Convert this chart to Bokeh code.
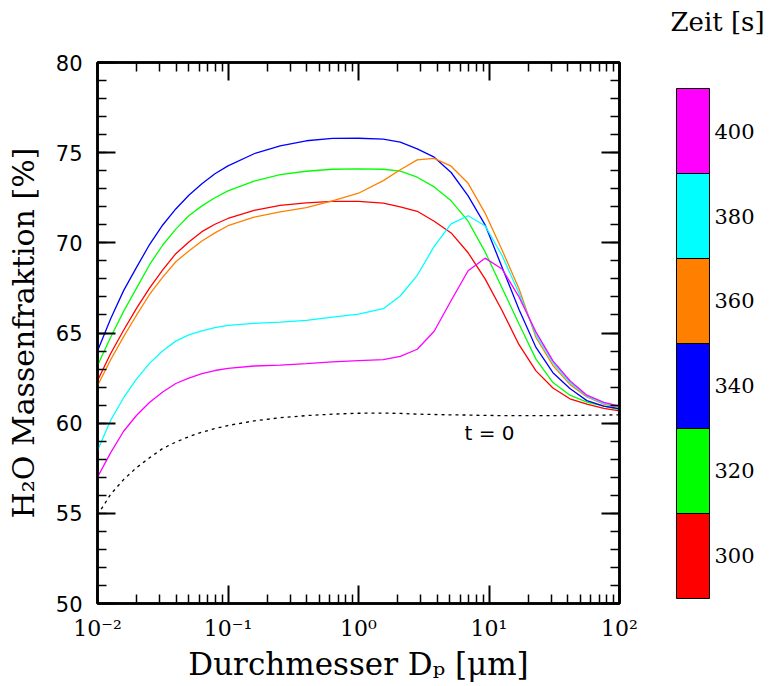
import numpy as np
from bokeh.plotting import figure
from bokeh.layouts import row
from bokeh.models import (FixedTicker, LogAxis, LinearAxis, Label, Range1d,
                          CustomJSTickFormatter)
from bokeh.core.properties import value
from bokeh.embed import file_html
from bokeh.resources import INLINE

# ---------------- data ----------------
log_d = [-2.0, -1.9, -1.8, -1.7, -1.6, -1.5, -1.4, -1.3, -1.2, -1.1, -1.0, -0.8, -0.6,
         -0.4, -0.2, 0.0, 0.19, 0.32, 0.45, 0.58, 0.71, 0.84, 0.97, 1.10, 1.23, 1.36,
         1.49, 1.62, 1.75, 1.88, 2.0]

red_300 = [62.36, 63.85, 65.15, 66.38, 67.5, 68.5, 69.4, 70.05, 70.62, 71.03, 71.35, 71.8,
           72.08, 72.22, 72.3, 72.3, 72.2, 72.0, 71.75, 71.2, 70.55, 69.45, 68.0, 66.25,
           64.35, 62.9, 61.95, 61.35, 61.05, 60.82, 60.68]
green_320 = [63.2, 64.75, 66.2, 67.5, 68.8, 69.88, 70.76, 71.5, 72.05, 72.5, 72.88, 73.42,
             73.78, 73.97, 74.08, 74.1, 74.08, 73.98, 73.64, 73.1, 72.33, 71.2, 69.5, 67.5,
             65.5, 63.55, 62.25, 61.55, 61.17, 60.95, 60.75]
blue_340 = [64.0, 65.78, 67.35, 68.65, 69.92, 70.99, 71.88, 72.64, 73.28, 73.83, 74.27, 74.94,
            75.38, 75.66, 75.79, 75.8, 75.75, 75.58, 75.21, 74.75, 73.9, 72.6, 71.0, 68.65,
            66.3, 64.2, 62.8, 61.92, 61.25, 60.95, 60.8]
orange_360 = [62.08, 63.5, 64.8, 66.0, 67.15, 68.1, 68.95, 69.55, 70.1, 70.55, 70.95, 71.42,
              71.72, 71.95, 72.33, 72.75, 73.45, 74.05, 74.6, 74.68, 74.25, 73.3, 71.65, 69.6,
              67.45, 64.75, 63.2, 62.15, 61.45, 61.05, 60.88]
cyan_380 = [58.48, 60.15, 61.41, 62.46, 63.33, 64.02, 64.55, 64.9, 65.12, 65.3, 65.42, 65.53,
            65.6, 65.7, 65.88, 66.05, 66.35, 67.05, 68.2, 69.8, 71.05, 71.5, 70.95, 69.3,
            67.2, 64.9, 63.35, 62.25, 61.5, 61.1, 60.92]
magenta_400 = [57.0, 58.35, 59.55, 60.44, 61.16, 61.73, 62.2, 62.5, 62.75, 62.92, 63.04, 63.17,
               63.22, 63.3, 63.4, 63.47, 63.52, 63.7, 64.1, 65.1, 66.8, 68.45, 69.15, 68.55,
               67.0, 65.05, 63.45, 62.35, 61.55, 61.15, 60.95]
start_t0 = [54.9, 56.05, 56.87, 57.54, 58.09, 58.6, 58.95, 59.25, 59.5, 59.7, 59.87, 60.13,
            60.3, 60.42, 60.5, 60.55, 60.56, 60.54, 60.5, 60.48, 60.46, 60.45, 60.43, 60.42,
            60.42, 60.42, 60.42, 60.43, 60.44, 60.45, 60.46]

times = [300, 320, 340, 360, 380, 400]
time_labels = ["300", "320", "340", "360", "380", "400"]
colors = ["#ff0000", "#00ff00", "#0000ff", "#ff8000", "#00ffff", "#ff00ff"]
series = [red_300, green_320, blue_340, orange_360, cyan_380, magenta_400]

x_major = [0.01, 0.1, 1, 10, 100]
y_major = [50, 55, 60, 65, 70, 75, 80]

# ---------------- main plot ----------------
diam = [10 ** v for v in log_d]

TOP, BOTTOM = 62, 83

p = figure(width=640, height=686, x_axis_type="log",
           x_range=Range1d(0.01, 100), y_range=Range1d(50, 80),
           output_backend="svg", toolbar_location=None,
           min_border_left=97, min_border_right=21,
           min_border_top=TOP, min_border_bottom=BOTTOM)
p.xgrid.visible = False
p.ygrid.visible = False
p.outline_line_color = "black"
p.outline_line_width = 2.5

for ys, c in zip(series, colors):
    p.line(diam, ys, line_color=c, line_width=1.3)
p.line(diam, start_t0, line_color="black", line_width=1.3, line_dash="3 4")

p.add_layout(Label(x=10.1, y=59.45, text="t = 0", text_font="DejaVu Sans",
                   text_font_size="20px", text_align="center",
                   text_baseline="middle", text_color="black"))

x_minor = [m * 10.0 ** e for e in range(-2, 2) for m in range(2, 10)]
xt = FixedTicker(ticks=x_major, minor_ticks=x_minor)
yt = FixedTicker(ticks=y_major, minor_ticks=list(range(50, 81)))

sup_fmt = CustomJSTickFormatter(code="""
const e = Math.round(Math.log10(tick));
const sup = {"-2": "\u207b\u00b2", "-1": "\u207b\u00b9", "0": "\u2070", "1": "\u00b9", "2": "\u00b2"};
return "10" + sup[String(e)];
""")
blank_fmt = CustomJSTickFormatter(code="return '';")

def style_axis(ax):
    ax.axis_line_color = "black"
    ax.axis_line_width = 2.5
    ax.major_tick_in = 18
    ax.major_tick_out = 0
    ax.minor_tick_in = 9
    ax.minor_tick_out = 0
    ax.major_tick_line_color = "black"
    ax.minor_tick_line_color = "black"
    ax.major_tick_line_width = 2
    ax.minor_tick_line_width = 1.5

xa = p.xaxis[0]
xa.ticker = xt
xa.formatter = sup_fmt
style_axis(xa)
xa.major_label_text_font = "DejaVu Serif"
xa.major_label_text_font_size = "22px"
xa.major_label_text_color = "black"
xa.major_label_standoff = 12
xa.axis_label = "Durchmesser D\u209a [\u03bcm]"
xa.axis_label_text_font = "DejaVu Serif"
xa.axis_label_text_font_size = "31px"
xa.axis_label_text_font_style = "normal"
xa.axis_label_text_color = "black"
xa.axis_label_standoff = 2

ya = p.yaxis[0]
ya.ticker = yt
style_axis(ya)
ya.major_label_text_font = "DejaVu Sans"
ya.major_label_text_font_size = "21px"
ya.major_label_text_color = "black"
ya.major_label_standoff = 15
ya.axis_label = "H\u2082O Massenfraktion [%]"
ya.axis_label_text_font = "DejaVu Serif"
ya.axis_label_text_font_size = "30px"
ya.axis_label_text_font_style = "normal"
ya.axis_label_text_color = "black"
ya.axis_label_standoff = 12

top_ax = LogAxis(ticker=xt, formatter=blank_fmt, major_label_text_font_size="0px")
style_axis(top_ax)
p.add_layout(top_ax, "above")
right_ax = LinearAxis(ticker=yt, formatter=blank_fmt, major_label_text_font_size="0px")
style_axis(right_ax)
p.add_layout(right_ax, "right")

# ---------------- colour bar (same frame top/bottom as the main plot) ----------------
# frame spans x 667..767 px (100 px); bar occupies data x 0..1 (33 px wide)
p2 = figure(width=129, height=686, x_range=Range1d(-0.2727, 2.7576),
            y_range=Range1d(288.82, 416.12), output_backend="svg",
            toolbar_location=None, x_axis_location=None, y_axis_location=None,
            min_border_left=27, min_border_right=2,
            min_border_top=TOP, min_border_bottom=BOTTOM)
p2.xgrid.visible = False
p2.ygrid.visible = False
p2.outline_line_color = None
p2.quad(left=0, right=1, bottom=[t - 10 for t in times], top=[t + 10 for t in times],
        fill_color=colors, line_color="black", line_width=1)
p2.text(x=1.15, y=times, text=time_labels, text_font=value("DejaVu Serif"),
        text_font_size="21px", text_align="left", text_baseline="middle",
        text_color="black")

cb_title_ax = LinearAxis(ticker=FixedTicker(ticks=[]), formatter=blank_fmt,
                         major_label_text_font_size="0px")
cb_title_ax.axis_line_color = None
cb_title_ax.major_tick_line_color = None
cb_title_ax.minor_tick_line_color = None
cb_title_ax.major_tick_out = 0
cb_title_ax.minor_tick_out = 0
cb_title_ax.major_label_standoff = 0
cb_title_ax.axis_label = "Zeit [s]"
cb_title_ax.axis_label_text_font = "DejaVu Serif"
cb_title_ax.axis_label_text_font_size = "26px"
cb_title_ax.axis_label_text_font_style = "normal"
cb_title_ax.axis_label_text_color = "black"
cb_title_ax.axis_label_standoff = 26
p2.add_layout(cb_title_ax, "above")

layout = row(p, p2)
open("out.html", "w").write(file_html(layout, INLINE))
